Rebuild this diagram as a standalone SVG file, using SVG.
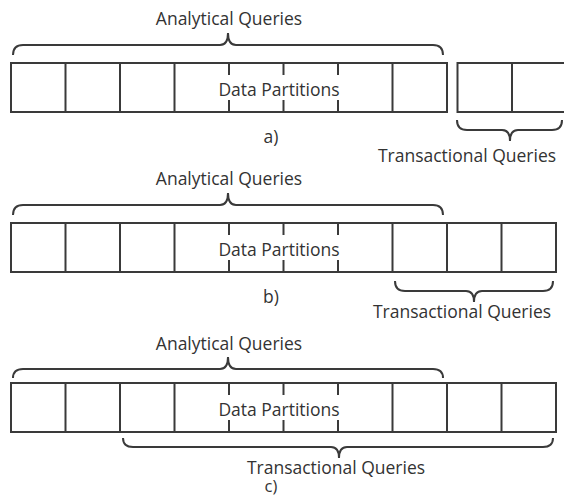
<svg xmlns="http://www.w3.org/2000/svg" width="564" height="497" viewBox="0 0 564 497">
<style>
.box{fill:#fff;stroke:#3a3a3a;stroke-width:2}
.div{stroke:#3a3a3a;stroke-width:2}
.brace{fill:none;stroke:#3a3a3a;stroke-width:2}
text{font-family:"Open Sans","Noto Sans",sans-serif;font-size:17.5px;fill:#333;text-anchor:middle}
</style>
<rect width="564" height="497" fill="#fff"/>
<g id="row-a">
<g id="a-partitions">
<rect class="box" x="11" y="63" width="436" height="49"/>
<path class="div" d="M65.5,63V112M120,63V112M174.5,63V112M392.5,63V112M229,63V75M229,100V112M283.5,63V75M283.5,100V112M338,63V75M338,100V112"/>
<text x="279" y="96">Data Partitions</text>
</g>
<g id="a-transactional">
<rect class="box" x="457.5" y="63" width="110" height="49"/>
<path class="div" d="M512,63V112"/>
</g>
<text x="271" y="143">a)</text>
</g>
<g id="row-b">
<g id="b-partitions">
<rect class="box" x="11" y="223" width="545" height="49"/>
<path class="div" d="M65.5,223V272M120,223V272M174.5,223V272M392.5,223V272M447,223V272M501.5,223V272M229,223V235M229,260V272M283.5,223V235M283.5,260V272M338,223V235M338,260V272"/>
<text x="279" y="256">Data Partitions</text>
</g>
<text x="271" y="303">b)</text>
</g>
<g id="row-c">
<g id="c-partitions">
<rect class="box" x="11" y="383" width="545" height="49"/>
<path class="div" d="M65.5,383V432M120,383V432M174.5,383V432M392.5,383V432M447,383V432M501.5,383V432M229,383V395M229,420V432M283.5,383V395M283.5,420V432M338,383V395M338,420V432"/>
<text x="279" y="416">Data Partitions</text>
</g>
<text x="271" y="492" style="font-size:16.5px">c)</text>
</g>
<g id="connectors">
<path class="brace" d="M13,55Q13,45 23,45L220,45Q228,45 228,33Q228,45 236,45L433,45Q443,45 443,55"/>
<path class="brace" d="M457,120Q457,130 467,130L502,130Q510,130 510,141Q510,130 518,130L552,130Q562,130 562,120"/>
<path class="brace" d="M13,215Q13,205 23,205L220,205Q228,205 228,193Q228,205 236,205L433,205Q443,205 443,215"/>
<path class="brace" d="M395,281Q395,291 405,291L466,291Q474,291 474,302Q474,291 482,291L543,291Q553,291 553,281"/>
<path class="brace" d="M13,378Q13,369 23,369L220,369Q228,369 228,357Q228,369 236,369L433,369Q443,369 443,378"/>
<path class="brace" d="M123,438Q123,447 133,447L331,447Q339,447 339,458Q339,447 347,447L543,447Q553,447 553,438"/>
</g>
<g id="labels">
<text x="229" y="25">Analytical Queries</text>
<text x="467" y="162">Transactional Queries</text>
<text x="229" y="185">Analytical Queries</text>
<text x="462" y="318">Transactional Queries</text>
<text x="229" y="350">Analytical Queries</text>
<text x="336" y="474">Transactional Queries</text>
</g>
</svg>
